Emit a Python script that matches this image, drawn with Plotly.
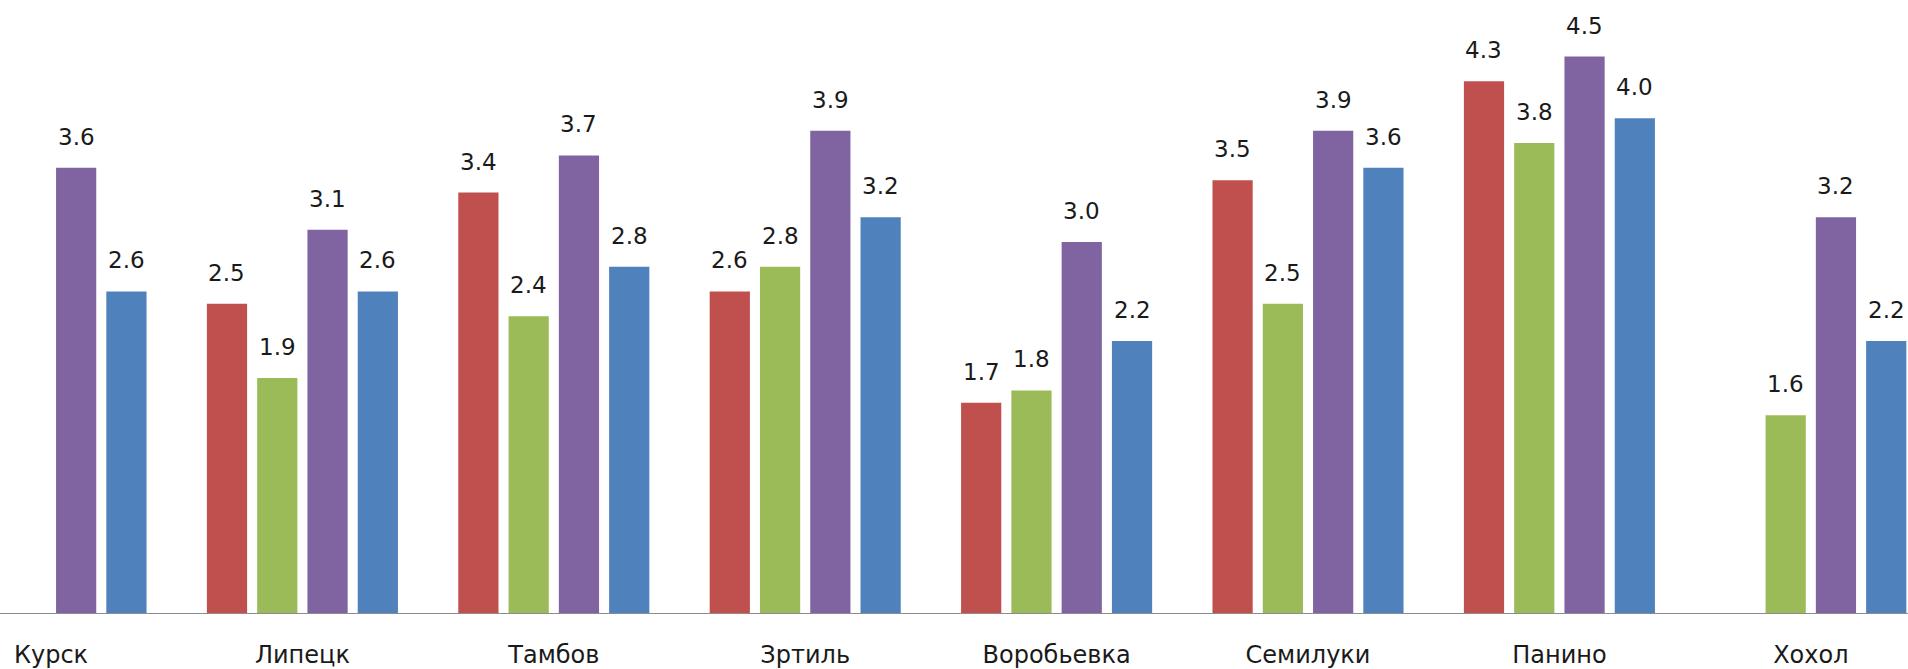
import plotly.graph_objects as go

categories = ["Курск", "Липецк", "Тамбов", "Зртиль", "Воробьевка", "Семилуки", "Панино", "Хохол"]
series_names = ["Ряд 1", "Ряд 2", "Ряд 3", "Ряд 4"]
red_vals = [None, 2.5, 3.4, 2.6, 1.7, 3.5, 4.3, None]
green_vals = [None, 1.9, 2.4, 2.8, 1.8, 2.5, 3.8, 1.6]
purple_vals = [3.6, 3.1, 3.7, 3.9, 3.0, 3.9, 4.5, 3.2]
blue_vals = [2.6, 2.6, 2.8, 3.2, 2.2, 3.6, 4.0, 2.2]
colors = ["#C0504D", "#9BBB59", "#8064A2", "#4F81BD"]

all_series = [red_vals, green_vals, purple_vals, blue_vals]

BARGAP = 0.2
BARGROUPGAP = 0.2
n = len(all_series)
slot = (1 - BARGAP) / n

fig = go.Figure()
annotations = []
for si, (name, vals, col) in enumerate(zip(series_names, all_series, colors)):
    fig.add_trace(go.Bar(
        x=categories, y=vals, name=name, marker=dict(color=col, line=dict(width=0)),
        showlegend=False, hoverinfo="x+y",
    ))
    offset = -(1 - BARGAP) / 2 + slot * (si + 0.5)
    for ci, v in enumerate(vals):
        if v is None:
            continue
        annotations.append(dict(
            x=ci + offset, y=v, xref="x", yref="y", text=f"{v:.1f}",
            showarrow=False, yanchor="bottom", xanchor="center", yshift=16,
            font=dict(family="DejaVu Sans", size=23, color="#1a1a1a"),
        ))

fig.update_layout(
    width=1908, height=669,
    margin=dict(l=0, r=0, t=0, b=53),
    barmode="group", bargap=BARGAP, bargroupgap=BARGROUPGAP,
    plot_bgcolor="white", paper_bgcolor="white",
    annotations=annotations,
)
fig.update_xaxes(
    type="category", range=[-0.2029, 7.3866],
    showline=True, linecolor="#8c8c8c", linewidth=1.2,
    showgrid=False, ticks="", ticklabelstandoff=20,
    tickfont=dict(family="DejaVu Sans", size=24, color="#1a1a1a"),
)
fig.update_yaxes(range=[0, 4.957], visible=False, showgrid=False, zeroline=False)

fig.write_html(
    "out.html",
    config={"displayModeBar": False},
    post_script="document.body.style.margin='0';document.body.style.overflow='hidden';",
)
